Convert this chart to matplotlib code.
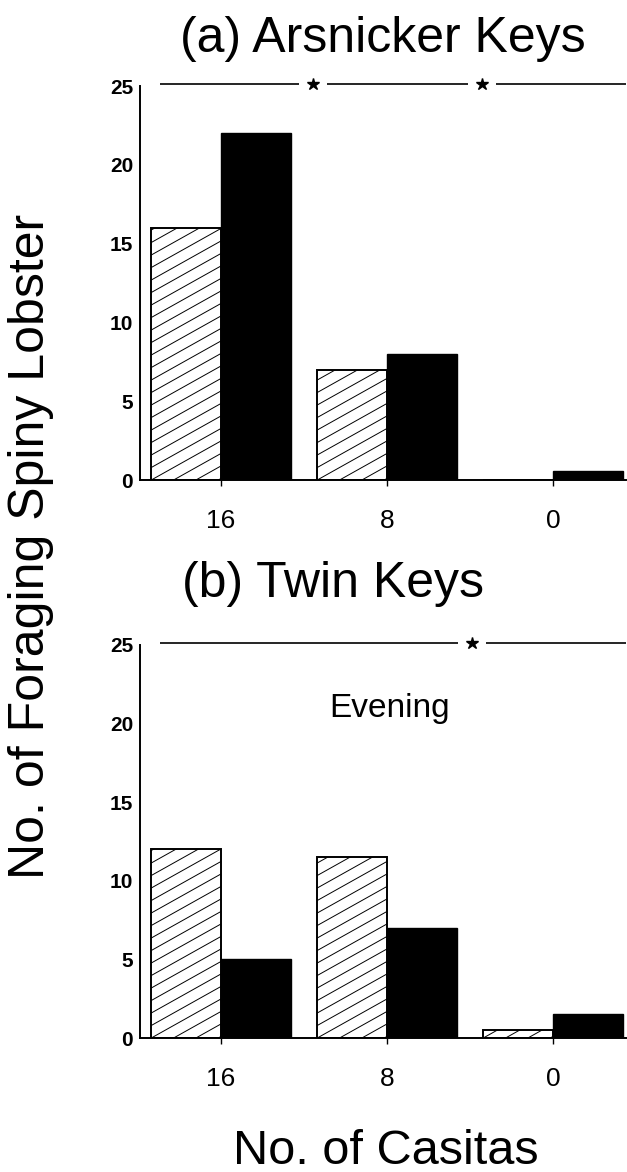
import numpy as np
import matplotlib
matplotlib.use("Agg")
import matplotlib.pyplot as plt
from matplotlib.lines import Line2D
from matplotlib.transforms import IdentityTransform

# ---------------- data ----------------
casitas = ["16", "8", "0"]
arsnicker_hatched = [16, 7, 0]
arsnicker_black = [22, 8, 0.6]
twin_hatched = [12, 11.5, 0.5]
twin_black = [5, 7, 1.5]
yticks = [0, 5, 10, 15, 20, 25]
# significance stars (x in group units) for each panel
stars_a = [0.554, 1.572]
stars_b = [1.512]

plt.rcParams['font.family'] = ['Liberation Sans', 'DejaVu Sans']

W, H = 627, 1172
fig = plt.figure(figsize=(W / 100, H / 100), dpi=100)


def px_axes(x0, x1, ytop, ybot):
    return fig.add_axes([x0 / W, 1 - ybot / H, (x1 - x0) / W, (ybot - ytop) / H])


ax_a = px_axes(140, 626, 86, 480)
ax_b = px_axes(140, 626, 645, 1038)

bw = 0.42
xpos = np.arange(len(casitas))


def draw_hatch(ax, bar):
    bb = bar.get_window_extent()
    if bb.height < 1:
        return
    slope = 0.56
    spacing = 12.5
    span = bb.width * slope
    k = -int(span / spacing) - 2
    while True:
        y0 = bb.y0 + k * spacing
        if y0 > bb.y1:
            break
        ln = Line2D([bb.x0, bb.x1], [y0, y0 + span], transform=IdentityTransform(),
                    color='black', lw=0.7)
        ax.add_line(ln)
        ln.set_clip_path(bar)
        k += 1


def panel(ax, hatched, black, stars, ysig):
    ax.set_xlim(-0.488, 2.44)
    ax.set_ylim(0, 25)
    hb = ax.bar(xpos - bw / 2, hatched, width=bw, facecolor='white',
                edgecolor='black', linewidth=1.4, zorder=2)
    ax.bar(xpos + bw / 2, black, width=bw, facecolor='black',
           edgecolor='black', linewidth=1.0, zorder=2)
    for s in ['top', 'right']:
        ax.spines[s].set_visible(False)
    for s in ['left', 'bottom']:
        ax.spines[s].set_linewidth(1.4)
    ax.set_yticks(yticks)
    ax.set_yticklabels([str(t) for t in yticks], fontsize=15, fontweight='bold')
    ax.tick_params(axis='y', length=0, pad=5)
    ax.set_xticks(xpos)
    ax.set_xticklabels(casitas, fontsize=19)
    ax.tick_params(axis='x', length=4, width=1, direction='out', pad=17)
    # significance line with stars
    gap = 0.085
    xs = [-0.37] + [v for s in stars for v in (s - gap, s + gap)] + [2.44]
    for i in range(0, len(xs), 2):
        ax.plot([xs[i], xs[i + 1]], [ysig, ysig], color='black', lw=1.2,
                clip_on=False, solid_capstyle='butt')
    ax.plot(stars, [ysig] * len(stars), ls='none', marker='*', ms=9,
            color='black', clip_on=False)
    return hb


hb_a = panel(ax_a, arsnicker_hatched, arsnicker_black, stars_a, 25.1)
hb_b = panel(ax_b, twin_hatched, twin_black, stars_b, 25.1)

for ax, hb in ((ax_a, hb_a), (ax_b, hb_b)):
    for bar in hb.patches:
        draw_hatch(ax, bar)

fig.text(180 / W, 1 - 52 / H, "(a) Arsnicker Keys", fontsize=36,
         ha='left', va='baseline')
fig.text(182 / W, 1 - 597 / H, "(b) Twin Keys", fontsize=36,
         ha='left', va='baseline')
fig.text(390 / W, 1 - 717 / H, "Evening", fontsize=24,
         ha='center', va='baseline')
fig.text(386 / W, 1 - 1164 / H, "No. of Casitas", fontsize=35,
         ha='center', va='baseline')
fig.text(31 / W, 1 - 546 / H, "No. of Foraging Spiny Lobster", fontsize=36,
         ha='center', va='center', rotation=90)

fig.savefig("out.png", dpi=100)
